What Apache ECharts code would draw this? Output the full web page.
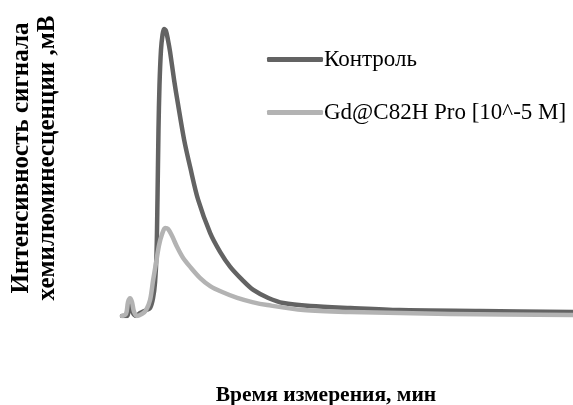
<!DOCTYPE html>
<html>
<head>
<meta charset="utf-8">
<script src="https://cdn.jsdelivr.net/npm/echarts@6/dist/echarts.min.js"></script>
<style>
  html, body { margin: 0; padding: 0; background: #fff; }
  #chart { width: 573px; height: 405px; }
</style>
</head>
<body>
<div id="chart"></div>
<script>
// Chemiluminescence kinetics: time (min) vs signal intensity (mV)
const controlTime = [0, 0.5, 0.8, 1.1, 1.4, 1.8, 2.3, 2.8, 3.1, 3.3, 3.44, 3.54, 3.64, 3.74, 3.89, 4.04, 4.19, 4.39, 4.59, 4.8, 5.2, 5.6, 6.2, 6.8, 7.6, 8.8, 9.8, 10.8, 12.0, 13.1, 14.6, 16.1, 18.8, 22.8, 27.7, 35.7, 45];
const controlSignal = [0, 0, 5, 1, 0, 1, 1.8, 2.7, 6.1, 11.5, 20.6, 39.2, 62.8, 78, 89.9, 94.9, 97.0, 96.3, 93.2, 89.2, 79.7, 71.3, 59.5, 50.3, 39.2, 28.0, 21.6, 16.6, 12.2, 8.8, 6.1, 4.4, 3.4, 2.7, 2.0, 1.7, 1.35];

const gdTime = [0, 0.4, 0.6, 0.8, 1.0, 1.2, 1.5, 2.0, 2.4, 2.8, 3.1, 3.4, 3.7, 4.0, 4.3, 4.6, 5.0, 5.5, 6.1, 6.8, 7.8, 8.8, 10.0, 11.5, 13.0, 14.5, 18.1, 22.8, 32.7, 45];
const gdSignal = [0, 0.7, 4.7, 6, 4.7, 1.4, 0, 0.7, 2, 5.4, 12, 18, 24, 27.7, 29.7, 29.4, 27.0, 23.3, 19.6, 16.6, 12.8, 10.1, 8.1, 6.1, 4.7, 3.7, 2.0, 1.35, 0.7, 0.34];

const seriesNames = ['Контроль', 'Gd@C82H Pro [10^-5 M]'];
const yTitle = ['Интенсивность сигнала', 'хемилюминесценции ,мВ'];
const xTitle = 'Время измерения, мин';

const pairs = (xs, ys) => xs.map((x, i) => [x, ys[i]]);

const chart = echarts.init(document.getElementById('chart'), null, { renderer: 'canvas' });
const serif = 'Liberation Serif, Times New Roman, serif';

chart.setOption({
  animation: false,
  backgroundColor: '#ffffff',
  grid: { left: 122, right: 0, top: 20, bottom: 89 },
  xAxis: {
    type: 'value', min: 0, max: 45,
    axisLine: { show: false }, axisTick: { show: false },
    axisLabel: { show: false }, splitLine: { show: false }
  },
  yAxis: {
    type: 'value', min: 0, max: 100,
    axisLine: { show: false }, axisTick: { show: false },
    axisLabel: { show: false }, splitLine: { show: false }
  },
  legend: {
    orient: 'vertical',
    left: 262, top: 43,
    itemWidth: 56, itemHeight: 5, itemGap: 30,
    icon: 'roundRect',
    textStyle: { fontFamily: serif, fontSize: 23, color: '#000', padding: [7, 0, 0, -4] },
    data: seriesNames
  },
  series: [
    {
      name: seriesNames[0], type: 'line', data: pairs(controlTime, controlSignal),
      showSymbol: false, smooth: 0.3,
      lineStyle: { color: '#636363', width: 4.5, cap: 'round', join: 'round' },
      itemStyle: { color: '#636363' }, z: 2
    },
    {
      name: seriesNames[1], type: 'line', data: pairs(gdTime, gdSignal),
      showSymbol: false, smooth: 0.3,
      lineStyle: { color: '#b3b3b3', width: 4.5, cap: 'round', join: 'round' },
      itemStyle: { color: '#b3b3b3' }, z: 3
    }
  ],
  graphic: [
    {
      type: 'text', x: 22, y: 158, rotation: Math.PI / 2,
      style: { text: yTitle[0], font: 'bold 25px ' + serif, fill: '#000', align: 'center', verticalAlign: 'middle' }
    },
    {
      type: 'text', x: 48, y: 158, rotation: Math.PI / 2,
      style: { text: yTitle[1], font: 'bold 25px ' + serif, fill: '#000', align: 'center', verticalAlign: 'middle' }
    },
    {
      type: 'text', x: 326, y: 395,
      style: { text: xTitle, font: 'bold 21.5px ' + serif, fill: '#000', align: 'center', verticalAlign: 'middle' }
    }
  ]
});
</script>
</body>
</html>
